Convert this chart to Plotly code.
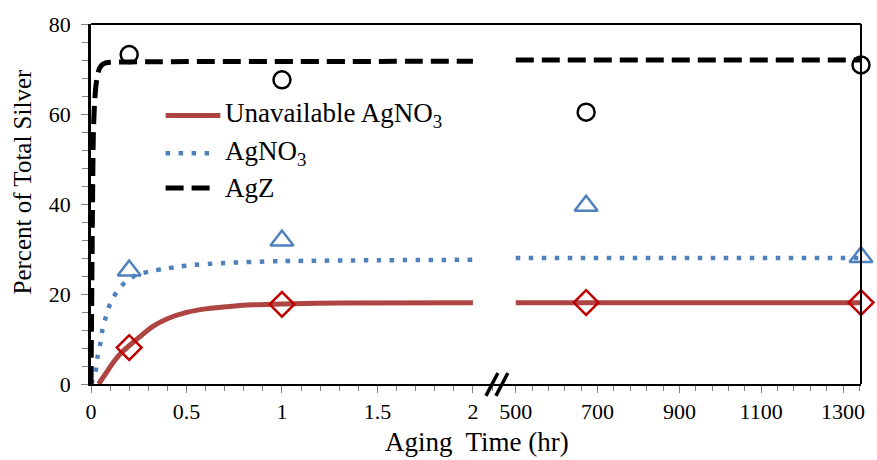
import plotly.graph_objects as go

# ---------------- data ----------------
# observed points, short-time panel (hr) and long-time panel (hr)
t_obs_short = [0.2, 1.0]
t_obs_long = [672, 1344]
agz_obs_short = [73.2, 67.6]
agz_obs_long = [60.4, 70.9]
agno3_obs_short = [25.2, 31.9]
agno3_obs_long = [39.6, 28.2]
unavail_obs_short = [8.1, 17.7]
unavail_obs_long = [18.1, 18.1]

# model curves, short-time panel
t_unavail_fit = [0.04, 0.08, 0.12, 0.16, 0.2, 0.25, 0.32, 0.4, 0.5, 0.6, 0.74, 0.85, 1.0, 1.3, 2.0]
unavail_fit = [0.0, 2.5, 5.0, 7.0, 8.5, 10.3, 12.7, 14.5, 15.9, 16.7, 17.3, 17.6, 17.8, 18.0, 18.05]

t_agno3_fit = [0.0, 0.015, 0.026, 0.035, 0.049, 0.06, 0.078, 0.1, 0.134, 0.179, 0.24, 0.31, 0.38, 0.45, 0.52, 0.7, 1.0, 1.5, 2.0]
agno3_fit = [0.0, 1.5, 3.3, 6.2, 9.1, 12.1, 14.9, 17.8, 20.4, 22.6, 24.3, 25.0, 25.6, 26.0, 26.4, 26.9, 27.3, 27.5, 27.6]

t_agz_fit = [0.0, 0.004, 0.008, 0.012, 0.018, 0.025, 0.035, 0.045, 0.06, 0.08, 0.3, 2.0]
agz_fit = [0.0, 20.0, 40.0, 55.0, 62.0, 66.0, 68.8, 70.2, 71.0, 71.4, 71.6, 71.7]

# model curves, long-time panel
t_fit_long = [500, 1344]
unavail_fit_long = [18.05, 18.05]
agno3_fit_long = [28.0, 28.0]
agz_fit_long = [72.0, 72.0]

# axis ticks
short_ticks = [0, 0.5, 1, 1.5, 2]
short_ticktext = ["0", "0.5", "1", "1.5", "2"]
long_ticks = [500, 700, 900, 1100, 1300]
y_ticks = [0, 20, 40, 60, 80]

legend_names = ["Unavailable AgNO<sub>3</sub>", "AgNO<sub>3</sub>", "AgZ"]

# ---------------- styling ----------------
W, H = 877, 460
ML, MR, MT, MB = 91, 12, 22, 76
PW, PH = W - ML - MR, H - MT - MB
FONT = "'Liberation Serif', 'Times New Roman', Times, 'DejaVu Serif', serif"
RED_LINE = "#AE4542"
RED_MK = "#C00000"
BLUE = "#4F81BD"
BLACK = "#000000"
TICKC = "#7F7F7F"
split = (497 - ML) / PW

def px(x):
    return (x - ML) / PW

def py(y):
    return (H - MB - y) / PH

fig = go.Figure()

red_line = dict(color=RED_LINE, width=5)
blue_line = dict(color=BLUE, width=4.5, dash="4.5px,8.5px")
black_line = dict(color=BLACK, width=5, dash="18px,8px")

for xa, ya, t_u, u, t_a, a, t_z, z in [
    ("x", "y", t_unavail_fit, unavail_fit, t_agno3_fit, agno3_fit, t_agz_fit, agz_fit),
    ("x2", "y2", t_fit_long, unavail_fit_long, t_fit_long, agno3_fit_long, t_fit_long, agz_fit_long),
]:
    fig.add_trace(go.Scatter(x=t_u, y=u, mode="lines", line=dict(shape="spline", smoothing=0.8, **red_line),
                             xaxis=xa, yaxis=ya, showlegend=False))
    fig.add_trace(go.Scatter(x=t_a, y=a, mode="lines", line=dict(shape="spline", smoothing=0.8, **blue_line),
                             xaxis=xa, yaxis=ya, showlegend=False))
    fig.add_trace(go.Scatter(x=t_z, y=z, mode="lines", line=dict(shape="spline", smoothing=0.6, **black_line),
                             xaxis=xa, yaxis=ya, showlegend=False))

for xa, ya, tt, uo, ao, zo in [
    ("x", "y", t_obs_short, unavail_obs_short, agno3_obs_short, agz_obs_short),
    ("x2", "y2", t_obs_long, unavail_obs_long, agno3_obs_long, agz_obs_long),
]:
    fig.add_trace(go.Scatter(x=tt, y=zo, mode="markers", xaxis=xa, yaxis=ya, cliponaxis=False, showlegend=False,
                             marker=dict(symbol="circle-open", size=17, color=BLACK, line=dict(width=2.5, color=BLACK))))
    fig.add_trace(go.Scatter(x=tt, y=ao, mode="markers", xaxis=xa, yaxis=ya, cliponaxis=False, showlegend=False,
                             marker=dict(symbol="triangle-up-open", size=20, color=BLUE, line=dict(width=2.5, color=BLUE))))
    fig.add_trace(go.Scatter(x=tt, y=uo, mode="markers", xaxis=xa, yaxis=ya, cliponaxis=False, showlegend=False,
                             marker=dict(symbol="diamond-open", size=19, color=RED_MK, line=dict(width=2.5, color=RED_MK))))

tickfont = dict(family=FONT, size=22, color="black")
common_x = dict(showgrid=False, zeroline=False, showline=True, linecolor="black", linewidth=2,
                ticks="outside", ticklen=7, tickwidth=1, tickcolor=TICKC, tickfont=tickfont)

fig.update_layout(
    width=W, height=H,
    margin=dict(l=ML, r=MR, t=MT, b=MB),
    paper_bgcolor="white", plot_bgcolor="white",
    font=dict(family=FONT, size=22, color="black"),
    showlegend=False,
    xaxis=dict(domain=[0, split], range=[0, 2.115], tickvals=short_ticks, ticktext=short_ticktext,
               minor=dict(dtick=0.1, tick0=0, ticks="outside", ticklen=5, tickcolor=TICKC),
               anchor="y", **common_x),
    xaxis2=dict(domain=[split, 1], range=[449, 1344], tickvals=long_ticks,
                minor=dict(dtick=40, tick0=500, ticks="outside", ticklen=5, tickcolor=TICKC),
                anchor="y2", **common_x),
    yaxis=dict(domain=[0, 1], range=[0, 80], tickvals=y_ticks, showgrid=False, zeroline=False,
               showline=True, linecolor="black", linewidth=2.5, ticks="outside", ticklen=7, tickwidth=1,
               tickcolor=TICKC, tickfont=tickfont, ticklabelstandoff=6,
               minor=dict(dtick=4, tick0=0, ticks="outside", ticklen=6, tickcolor=TICKC), anchor="x"),
    yaxis2=dict(domain=[0, 1], range=[0, 80], visible=False, anchor="x2", matches="y"),
)

shapes = [
    dict(type="line", xref="paper", yref="paper", x0=0, x1=1, y0=1, y1=1, line=dict(color="black", width=2)),
    dict(type="line", xref="paper", yref="paper", x0=1, x1=1, y0=0, y1=1, line=dict(color="black", width=2)),
    # axis break mark
    dict(type="line", xref="paper", yref="paper", x0=px(488), y0=py(396), x1=px(500), y1=py(373),
         line=dict(color="black", width=3.5)),
    dict(type="line", xref="paper", yref="paper", x0=px(498), y0=py(396), x1=px(510), y1=py(373),
         line=dict(color="black", width=3.5)),
    # legend samples
    dict(type="line", xref="paper", yref="paper", x0=px(166), x1=px(221), y0=py(114), y1=py(114), line=red_line),
    dict(type="line", xref="paper", yref="paper", x0=px(166), x1=px(212), y0=py(152), y1=py(152), line=blue_line),
    dict(type="line", xref="paper", yref="paper", x0=px(166), x1=px(212), y0=py(187), y1=py(187), line=black_line),
]
fig.update_layout(shapes=shapes)

legend_y = [114, 152, 187]
for name, yy in zip(legend_names, legend_y):
    fig.add_annotation(text=name, xref="paper", yref="paper", x=px(224), y=py(yy), xanchor="left", yanchor="middle",
                       showarrow=False, font=dict(family=FONT, size=27, color="black"))

fig.add_annotation(text="Percent of Total Silver", xref="paper", yref="paper", x=px(22), y=py(181),
                   textangle=-90, showarrow=False, xanchor="center", yanchor="middle",
                   font=dict(family=FONT, size=25, color="black"))
fig.add_annotation(text="Aging\u00a0 Time (hr)", xref="paper", yref="paper", x=px(479), y=py(442),
                   showarrow=False, xanchor="center", yanchor="middle",
                   font=dict(family=FONT, size=27, color="black"))

fig.write_html("out.html")
